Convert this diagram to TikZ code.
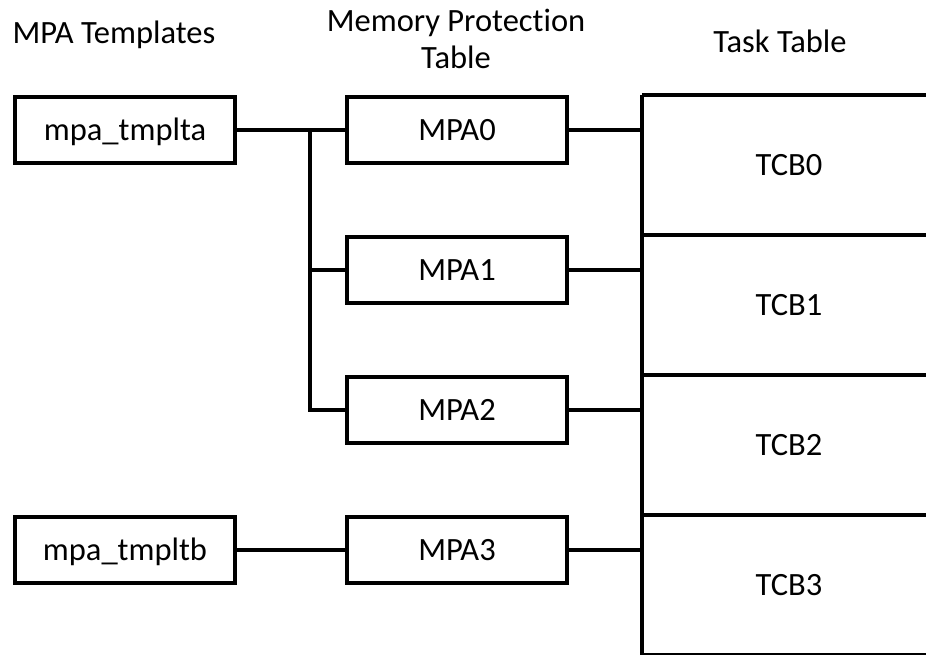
\documentclass[tikz,border=0pt]{standalone}
\usepackage{fontspec}
\setmainfont{Carlito}[Ligatures=NoCommon]
\usetikzlibrary{positioning}

\begin{document}
\begin{tikzpicture}
    [x=1pt, y=-1pt,
    block/.style={draw, line width=4.2pt, minimum width=220pt, minimum height=66pt, inner sep=0pt, text height=21pt, text depth=0pt, font=\fontsize{32.5}{38}\selectfont},
    heading/.style={align=center, font=\fontsize{32.5}{37}\selectfont},
    tcb/.style={font=\fontsize{32.5}{38}\selectfont},
    link/.style={line width=3.2pt},
    tabline/.style={line width=4.2pt}]
    \useasboundingbox (0,0) rectangle (926,654);
    %headings
    \node[heading, anchor=base] (hdtmpl) at (114,43) {MPA Templates};
    \node[heading] (hdmpt) at (456,39) {Memory Protection\\Table};
    \node[heading, anchor=base] (hdtask) at (780,52) {Task Table};
    %templates and MPA entries
    \node[block] (tmpla) at (125,130) {mpa\_tmplta};
    \node[block] (tmplb) at (125,550) {mpa\_tmpltb};
    \node[block] (mpa0) at (457,130) {MPA0};
    \node[block] (mpa1) at (457,270) {MPA1};
    \node[block] (mpa2) at (457,410) {MPA2};
    \node[block] (mpa3) at (457,550) {MPA3};
    %task table
    \coordinate (tabtop) at (642,95);
    \coordinate (tabbot) at (642,655);
    \draw[tabline] (tabtop) -- (tabbot);
    \foreach \y in {95,235,375,515,655}
        \draw[tabline] (642,\y) -- (930,\y);
    \node[tcb] (tcb0) at (789,165) {TCB0};
    \node[tcb] (tcb1) at (789,305) {TCB1};
    \node[tcb] (tcb2) at (789,445) {TCB2};
    \node[tcb] (tcb3) at (789,585) {TCB3};
    %connectors
    \coordinate (fork) at (310,130);
    \draw[link] (tmpla) -- (mpa0);
    \draw[link] (fork) |- (mpa2.west);
    \draw[link] (fork |- mpa1) -- (mpa1.west);
    \draw[link] (tmplb) -- (mpa3);
    \draw[link] (mpa0) -- (mpa0 -| tabtop);
    \draw[link] (mpa1) -- (mpa1 -| tabtop);
    \draw[link] (mpa2) -- (mpa2 -| tabtop);
    \draw[link] (mpa3) -- (mpa3 -| tabtop);
\end{tikzpicture}
\end{document}
